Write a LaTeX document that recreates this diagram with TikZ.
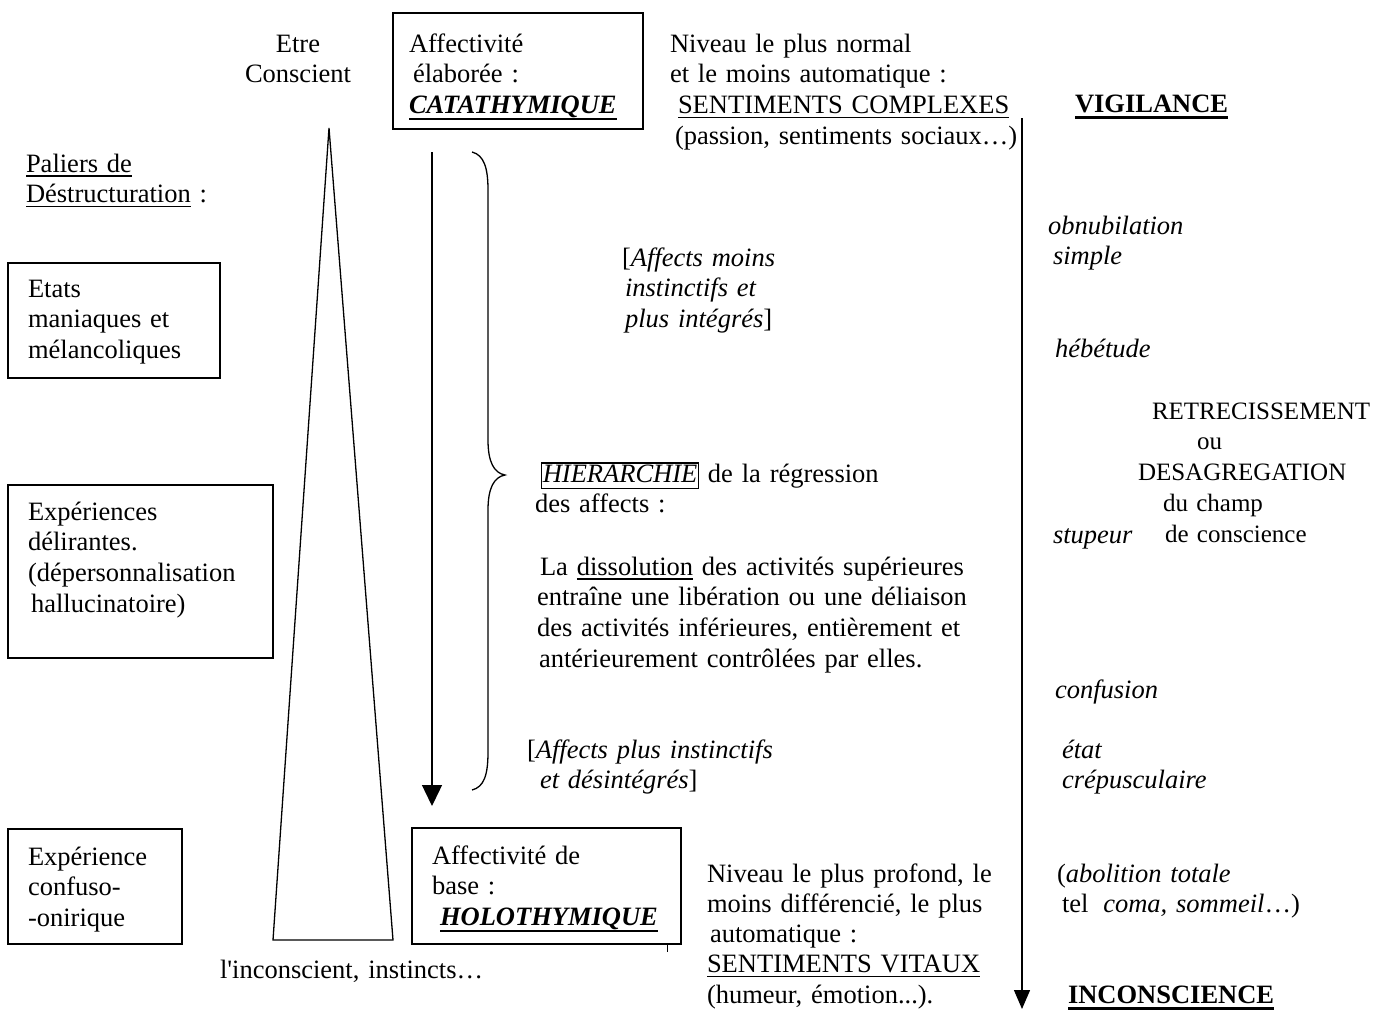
\documentclass[tikz,border=0pt]{standalone}
\usepackage{fontspec}
\setmainfont{Liberation Serif}[Ligatures=TeXOff]
\usetikzlibrary{arrows.meta}

% text sizes used throughout the chart
\newcommand\diagfont{\fontsize{26.5}{30.8}\selectfont}
\newcommand\capsfont{\fontsize{25}{30.8}\selectfont}

% underlines drawn at a fixed depth (not pushed down by descenders)
\newsavebox\undlbox
\newcommand\undl[1]{\sbox\undlbox{#1}\leavevmode\rlap{\rule[-4.5pt]{\wd\undlbox}{1.3pt}}\usebox\undlbox}
\newcommand\undlb[1]{\sbox\undlbox{#1}\leavevmode\rlap{\rule[-6.5pt]{\wd\undlbox}{2.6pt}}\usebox\undlbox}

\begin{document}
\begin{tikzpicture}[x=1pt,y=-1pt,
  txt/.style={font=\diagfont, inner sep=0pt, outer sep=0pt, anchor=base west, align=left, text width=#1},
  txt/.default=480pt,
  panel/.style={draw, line width=1.2pt, font=\diagfont, anchor=north west, align=left,
                inner ysep=0pt, outer sep=0pt},
  rule/.style={line width=1.3pt},
  flow/.style={line width=1.3pt, -{Triangle[length=21pt,width=20pt]}},
  scale arrow/.style={line width=1.3pt, -{Triangle[length=19pt,width=16pt]}}
]
\fill[white] (0,0) rectangle (1399,1010);
\useasboundingbox (0,0) rectangle (1399,1010);

% ---------- left column: conscious being and destructuration levels ----------
\node[txt=140pt, align=center, anchor=base] (etre) at (298,52) {Etre\\Conscient};

\node[txt] (paliers) at (26,172) {\undl{Paliers de}\\\undl{Déstructuration} :};

\node[panel, inner xsep=20pt, text width=172pt, text height=34pt, text depth=81pt]
  (etats) at (8,263) {Etats\\maniaques et\\mélancoliques};

\node[panel, inner xsep=20pt, text width=225pt, text height=35pt, text depth=138pt]
  (experiences) at (8,485) {Expériences\\délirantes.\\(dépersonnalisation\\\hspace*{3pt}hallucinatoire)};

\node[panel, inner xsep=20pt, text width=134pt, text height=36pt, text depth=79pt]
  (onirique) at (8,829) {Expérience\\confuso-\\-onirique};

% ---------- the consciousness cone ----------
\coordinate (apex) at (329,128);
\coordinate (baseL) at (273,940);
\coordinate (baseR) at (393,940);
\draw[rule, line join=miter] (apex) -- (baseL) -- (baseR) -- cycle;

\node[txt] (inconscient) at (220,978) {l'inconscient, instincts…};

% ---------- affectivity boxes ----------
\node[panel, inner xsep=16pt, text width=218pt, text height=39pt, text depth=77pt]
  (catathymique) at (393,13)
  {Affectivité\\\hspace*{4pt}élaborée :\\\undlb{\textbf{\textit{CATATHYMIQUE}}}};

\node[panel, inner xsep=20pt, text width=229pt, text height=36pt, text depth=80pt]
  (holothymique) at (412,828)
  {Affectivité de\\base :\\\hspace*{8pt}\undlb{\textbf{\textit{HOLOTHYMIQUE}}}};

\coordinate (markTop) at (667,944);
\coordinate (markBot) at (667,952);
\draw[line width=1pt] (markTop) -- (markBot);

% ---------- regression arrow and brace ----------
\coordinate (regTop) at (432,152);
\coordinate (regBot) at (432,806);
\draw[flow] (regTop) -- (regBot);

\coordinate (braceTop) at (472,152);
\coordinate (braceTip) at (505,475);
\coordinate (braceBot) at (472,790);
\draw[rule] (braceTop) .. controls (484,155) and (488,168) .. (488,190)
  -- (488,440) .. controls (488,462) and (494,473) .. (braceTip)
  .. controls (494,477) and (488,488) .. (488,510)
  -- (488,752) .. controls (488,775) and (484,787) .. (braceBot);

\node[txt] (moins) at (622,266)
  {[\textit{Affects moins}\\\hspace*{3pt}\textit{instinctifs et}\\\hspace*{3pt}\textit{plus intégrés}]};

\node[txt] (hierarchie) at (535,482)
  {\hspace*{6pt}{\setlength\fboxsep{0.5pt}\setlength\fboxrule{1.3pt}\fbox{\rule[-5pt]{0pt}{23pt}\textit{HIERARCHIE}}} de la régression\\des affects :};

\node[txt] (dissolution) at (537,575)
  {\hspace*{3pt}La \undl{dissolution} des activités supérieures\\entraîne une libération ou une déliaison\\des activités inférieures, entièrement et\\\hspace*{2pt}antérieurement contrôlées par elles.};

\node[txt] (plus) at (527,758)
  {[\textit{Affects plus instinctifs}\\\hspace*{13pt}\textit{et désintégrés}]};

% ---------- levels of affect ----------
\node[txt] (normal) at (670,52)
  {Niveau le plus normal\\et le moins automatique :\\\hspace*{8pt}\undl{SENTIMENTS COMPLEXES}\\\hspace*{5pt}(passion, sentiments sociaux…)};

\node[txt, font=\fontsize{26.5}{30.3}\selectfont] (profond) at (707,882)
  {Niveau le plus profond, le\\moins différencié, le plus\\\hspace*{3pt}automatique :\\\undl{SENTIMENTS VITAUX}\\(humeur, émotion...).};

% ---------- vigilance scale ----------
\coordinate (vigTop) at (1022,118);
\coordinate (vigBot) at (1022,1009);
\draw[scale arrow] (vigTop) -- (vigBot);

\node[txt] (vigilance) at (1075,112) {\undlb{\textbf{VIGILANCE}}};
\node[txt] (obnubilation) at (1048,234) {\textit{obnubilation}\\\hspace*{5pt}\textit{simple}};
\node[txt] (hebetude) at (1055,357) {\textit{hébétude}};
\node[txt, font=\capsfont] (champ) at (1138,419)
  {\hspace*{14pt}RETRECISSEMENT\\\hspace*{59pt}ou\\DESAGREGATION\\\hspace*{25pt}du champ\\\hspace*{27pt}de conscience};
\node[txt] (stupeur) at (1053,543) {\textit{stupeur}};
\node[txt] (confusion) at (1055,698) {\textit{confusion}};
\node[txt] (crepusculaire) at (1062,758) {\textit{état}\\\textit{crépusculaire}};
\node[txt] (abolition) at (1057,882)
  {(\textit{abolition totale}\\\hspace*{5pt}tel\hspace{6pt} \textit{coma, sommeil}…)};
\node[txt] (inconscience) at (1068,1003) {\undlb{\textbf{INCONSCIENCE}}};

\end{tikzpicture}
\end{document}
